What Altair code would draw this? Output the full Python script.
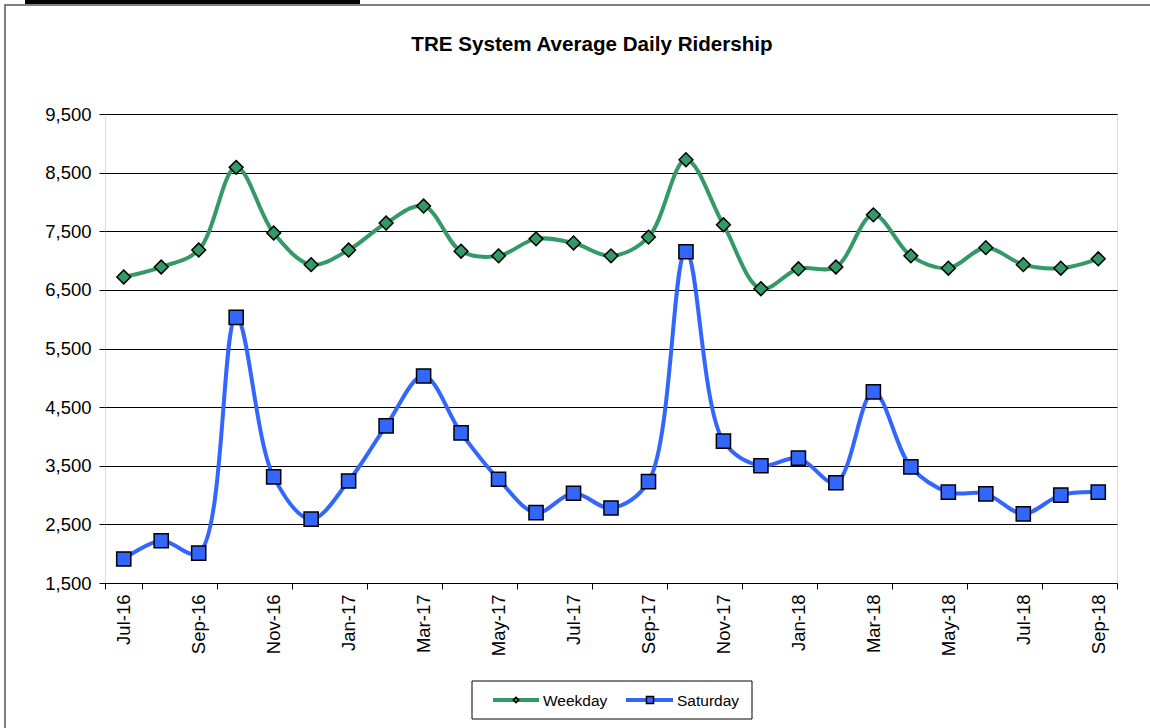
import altair as alt
import pandas as pd

months = ["Jul-16", "Aug-16", "Sep-16", "Oct-16", "Nov-16", "Dec-16",
          "Jan-17", "Feb-17", "Mar-17", "Apr-17", "May-17", "Jun-17",
          "Jul-17", "Aug-17", "Sep-17", "Oct-17", "Nov-17", "Dec-17",
          "Jan-18", "Feb-18", "Mar-18", "Apr-18", "May-18", "Jun-18",
          "Jul-18", "Aug-18", "Sep-18"]
weekday = [6720, 6890, 7180, 8590, 7470, 6930, 7180, 7640, 7930, 7160,
           7080, 7370, 7300, 7080, 7400, 8720, 7610, 6520, 6860, 6890,
           7780, 7080, 6870, 7220, 6930, 6870, 7030]
saturday = [1910, 2220, 2010, 6030, 3310, 2590, 3240, 4180, 5030, 4060,
            3270, 2700, 3030, 2780, 3230, 7150, 3920, 3500, 3630, 3210,
            4760, 3480, 3050, 3020, 2680, 3000, 3050]
series = ["Weekday", "Saturday"]
colors = ["#339966", "#3366FF"]
shapes = ["diamond", "square"]
y_ticks = [1500, 2500, 3500, 4500, 5500, 6500, 7500, 8500, 9500]
x_label_months = months[::2]
title_text = "TRE System Average Daily Ridership"

rows = []
for m, w, s in zip(months, weekday, saturday):
    rows.append({"Month": m, "Series": "Weekday", "Riders": w})
    rows.append({"Month": m, "Series": "Saturday", "Riders": s})
df = pd.DataFrame(rows)

FONT = "Liberation Sans"
W, H = 1012, 469

x_enc = alt.X("Month:O", sort=months,
              scale=alt.Scale(type="band", paddingInner=0, paddingOuter=0),
              axis=alt.Axis(title=None, values=x_label_months, labelAngle=-90,
                            labelFont=FONT, labelFontSize=18.5, labelColor="black",
                            tickBand="extent", tickColor="black", tickSize=6,
                            domain=False, labelPadding=5, grid=False))
y_enc = alt.Y("Riders:Q",
              scale=alt.Scale(domain=[1500, 9500], nice=False, zero=False),
              axis=alt.Axis(title=None, values=y_ticks, format=",.0f",
                            labelFont=FONT, labelFontSize=18.5, labelColor="black",
                            tickColor="black", tickSize=6, labelPadding=8,
                            domain=False, grid=True, gridColor="black",
                            gridWidth=1, gridOpacity=1))
color_enc = alt.Color("Series:N", scale=alt.Scale(domain=series, range=colors), legend=None)
fill_enc = alt.Fill("Series:N", scale=alt.Scale(domain=series, range=colors), legend=None)
shape_enc = alt.Shape("Series:N", scale=alt.Scale(domain=series, range=shapes), legend=None)

base = alt.Chart(df)
lines = base.mark_line(interpolate="catmull-rom", strokeWidth=4).encode(
    x=x_enc, y=y_enc, color=color_enc, detail="Series:N")
pts_w = base.transform_filter(alt.datum.Series == "Weekday").mark_point(
    filled=True, size=190, stroke="black", strokeWidth=1.5, opacity=1).encode(
    x=x_enc, y=y_enc, fill=fill_enc, shape=shape_enc)
pts_s = base.transform_filter(alt.datum.Series == "Saturday").mark_point(
    filled=True, size=200, stroke="black", strokeWidth=1.5, opacity=1).encode(
    x=x_enc, y=y_enc, fill=fill_enc, shape=shape_enc)

# decorations: outer border, top bar, title, legend box
deco = alt.Chart(pd.DataFrame({"a": [0]}))
outer = deco.mark_rect(fill=None, stroke="#555555", strokeWidth=1.5).encode(
    x=alt.value(-100), x2=alt.value(W + 60), y=alt.value(-109), y2=alt.value(H + 200))
topbar = deco.mark_rect(fill="black").encode(
    x=alt.value(-80), x2=alt.value(255), y=alt.value(-120), y2=alt.value(-110))
title = deco.mark_text(text=title_text, align="center", baseline="alphabetic",
                       font=FONT, fontSize=20.6, fontWeight="bold", color="black").encode(
    x=alt.value(487), y=alt.value(-63))
legbox = deco.mark_rect(fill="white", stroke="black", strokeWidth=1).encode(
    x=alt.value(367), x2=alt.value(647), y=alt.value(567), y2=alt.value(605))

leg_layers = []
leg_x = [(388, 434, 411, 438), (521, 568, 545, 572)]
leg_sizes = [30, 50]
for i, name in enumerate(series):
    x1, x2, xm, xt = leg_x[i]
    leg_layers.append(deco.mark_rule(color=colors[i], strokeWidth=4).encode(
        x=alt.value(x1), x2=alt.value(x2), y=alt.value(586)))
    leg_layers.append(deco.mark_point(shape=shapes[i], filled=True, fill=colors[i],
                                      stroke="black", strokeWidth=1.5, size=leg_sizes[i], opacity=1).encode(
        x=alt.value(xm), y=alt.value(586)))
    leg_layers.append(deco.mark_text(text=name, align="left", baseline="middle",
                                     font=FONT, fontSize=15.5, color="black").encode(
        x=alt.value(xt), y=alt.value(587)))

chart = alt.layer(outer, topbar, title, lines, pts_w, pts_s, legbox, *leg_layers).properties(
    width=W, height=H,
    autosize=alt.AutoSizeParams(type="none"),
    padding={"left": 105, "top": 114, "right": 33, "bottom": 145},
).configure_view(stroke="black", strokeWidth=2.5).configure(background="white")

chart.save("out.html", embed_options={"renderer": "svg", "actions": False})
